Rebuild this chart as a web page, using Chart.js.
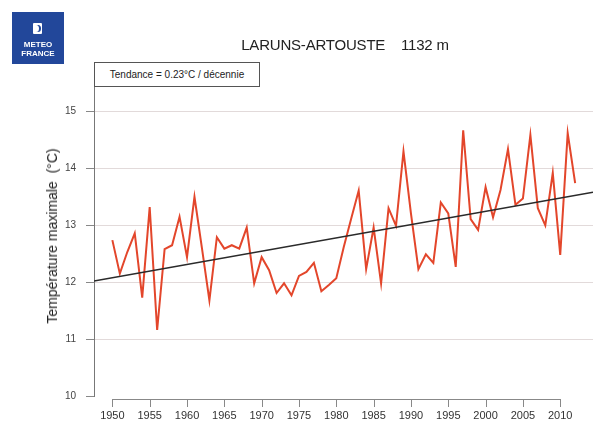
<!DOCTYPE html>
<html>
<head>
<meta charset="utf-8">
<script src="https://cdn.jsdelivr.net/npm/chart.js@4"></script>
<style>
  html, body { margin:0; padding:0; background:#fff; }
  #wrap { position:relative; width:593px; height:422px; overflow:hidden; font-family:"Liberation Sans", Arial, sans-serif; }
  canvas { position:absolute; left:0; top:0; }
  #logo { position:absolute; left:12px; top:12px; width:52px; height:52px; background:#22479a; }
  #logo .icon { position:absolute; left:21px; top:11px; width:9px; height:11px; background:#fff; border-radius:1px; }
  #logo .icon::after { content:""; position:absolute; left:2px; top:2px; width:6px; height:7px; border-radius:50%; box-shadow:-2px 0 0 0 #22479a inset; }
  #logo .t { position:absolute; left:0; width:52px; text-align:center; color:#fff; font-family:"Liberation Sans Narrow","Liberation Sans",Arial,sans-serif; font-weight:bold; font-size:8px; line-height:8px; }
  #title { position:absolute; left:200px; width:290px; top:36px; text-align:center; font-size:15px; color:#222; white-space:pre; letter-spacing:-0.2px; }
  #ytitle { position:absolute; left:51.5px; top:236px; transform:translate(-50%,-50%) rotate(-90deg); font-size:14px; color:#222; white-space:pre; }
  #box { position:absolute; left:94px; top:62px; width:164px; height:23px; border:1.5px solid #555; background:#fff; box-sizing:content-box; font-size:10px; color:#222; line-height:23px; text-align:center; white-space:nowrap; }
</style>
</head>
<body>
<div id="wrap">
  <canvas id="c" width="593" height="422"></canvas>
  <div id="logo"><div class="icon"></div><div class="t" style="top:29px">METEO</div><div class="t" style="top:38px">FRANCE</div></div>
  <div id="title">LARUNS-ARTOUSTE    1132 m</div>
  <div id="ytitle">Température maximale  (°C)</div>
  <div id="box">Tendance = 0.23°C / décennie</div>
</div>
<script>
// ---- data ----
const years = [1950,1951,1952,1953,1954,1955,1956,1957,1958,1959,
               1960,1961,1962,1963,1964,1965,1966,1967,1968,1969,
               1970,1971,1972,1973,1974,1975,1976,1977,1978,1979,
               1980,1981,1982,1983,1984,1985,1986,1987,1988,1989,
               1990,1991,1992,1993,1994,1995,1996,1997,1998,1999,
               2000,2001,2002,2003,2004,2005,2006,2007,2008,2009,
               2010,2011,2012];
const tmax = [12.74,12.15,12.53,12.86,11.73,13.32,11.16,12.58,12.65,13.15,
              12.44,13.50,12.60,11.68,12.79,12.59,12.65,12.59,12.96,11.98,
              12.44,12.21,11.81,11.98,11.77,12.11,12.18,12.34,11.84,11.95,
              12.07,12.62,13.12,13.61,12.23,12.96,11.98,13.30,12.99,14.30,
              13.21,12.23,12.49,12.34,13.40,13.21,12.27,14.67,13.11,12.92,
              13.67,13.14,13.62,14.34,13.36,13.47,14.59,13.30,13.00,13.92,
              12.48,14.62,13.74];
const trendYears = [1947.54, 2014.39];
const trendValues = [12.02, 13.58];
const xTicks = [1950,1955,1960,1965,1970,1975,1980,1985,1990,1995,2000,2005,2010];
const yTicks = [10,11,12,13,14,15];

const xAxisLine = {
  id: 'xAxisLine',
  afterDraw(chart) {
    const xs = chart.scales.x, ctx = chart.ctx;
    const y0 = Math.round(chart.chartArea.bottom) + 3;
    ctx.save();
    ctx.strokeStyle = '#888';
    ctx.lineWidth = 1;
    ctx.beginPath();
    ctx.moveTo(Math.round(xs.getPixelForValue(xTicks[0])) + 0.5, y0 + 0.5);
    ctx.lineTo(Math.round(xs.getPixelForValue(xTicks[xTicks.length - 1])) + 0.5, y0 + 0.5);
    xTicks.forEach(t => {
      const px = Math.round(xs.getPixelForValue(t)) + 0.5;
      ctx.moveTo(px, y0);
      ctx.lineTo(px, y0 + 8);
    });
    ctx.stroke();
    ctx.restore();
  }
};

new Chart(document.getElementById('c'), {
  type: 'line',
  data: {
    datasets: [
      {
        label: 'Tendance',
        data: trendYears.map((x, i) => ({ x, y: trendValues[i] })),
        borderColor: '#2a2a2a',
        borderWidth: 1.5,
        pointRadius: 0,
        fill: false
      },
      {
        label: 'Température maximale',
        data: years.map((x, i) => ({ x, y: tmax[i] })),
        borderColor: '#e3462b',
        borderWidth: 2,
        pointRadius: 0,
        tension: 0,
        fill: false
      }
    ]
  },
  options: {
    responsive: false,
    animation: false,
    devicePixelRatio: 1,
    layout: { padding: { top: 62, left: 0, right: 0, bottom: 0 } },
    plugins: { legend: { display: false }, tooltip: { enabled: false }, title: { display: false } },
    scales: {
      x: {
        type: 'linear',
        min: 1947.54,
        max: 2014.39,
        afterBuildTicks: s => { s.ticks = xTicks.map(v => ({ value: v })); },
        ticks: {
          callback: v => String(v),
          font: { size: 11, family: 'Liberation Sans' },
          color: '#333',
          padding: 5,
          maxRotation: 0,
          autoSkip: false
        },
        grid: { display: false },
        border: { display: false },
        afterFit: s => { s.height = 26; }
      },
      y: {
        min: 10,
        max: 15.87,
        afterBuildTicks: s => { s.ticks = yTicks.map(v => ({ value: v })); },
        ticks: {
          font: { size: 10, family: 'Liberation Sans' },
          color: '#444',
          padding: 10
        },
        grid: {
          color: c => (c.tick && c.tick.value === 10) ? 'rgba(0,0,0,0)' : '#e2dada',
          tickColor: '#888',
          tickLength: 8,
          lineWidth: 1
        },
        border: { color: '#777', width: 1 },
        afterFit: s => { s.width = 94; }
      }
    }
  },
  plugins: [xAxisLine]
});
</script>
</body>
</html>
